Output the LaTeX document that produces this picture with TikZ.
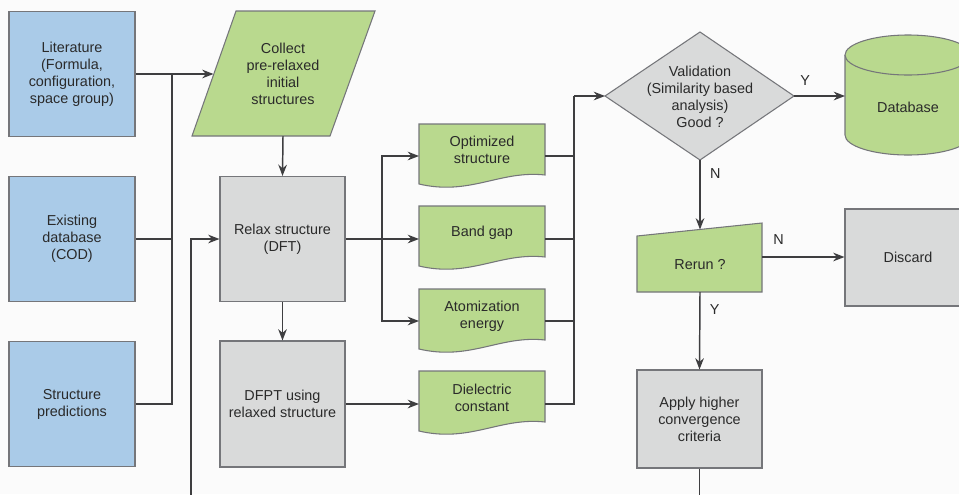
\documentclass[tikz,border=0pt]{standalone}
\usepackage{fontspec}
\setmainfont{Liberation Sans}
\usetikzlibrary{arrows.meta}
\definecolor{bluef}{HTML}{AACBE8}
\definecolor{greenf}{HTML}{B9D98E}
\definecolor{grayf}{HTML}{D9DADA}
\definecolor{bord}{HTML}{75767A}
\definecolor{wire}{HTML}{3E3E40}
\definecolor{txtc}{HTML}{2A2A2A}
\definecolor{bgc}{HTML}{FBFBFB}
\newcommand{\docshp}[1]{\draw[docstyle] (419,#1) -- (545,#1) -- (545,#1+51) .. controls (500,#1+46) and (470,#1+72) .. (419,#1+60) -- cycle;}
\begin{document}
\begin{tikzpicture}[x=0.75pt,y=-0.75pt,
  txt/.style={text=txtc,align=center,font=\fontsize{10.8}{12.8}\selectfont,inner sep=0pt},
  boxbase/.style={txt,draw=bord,line width=0.8pt,minimum width=94.5pt,inner sep=2pt},
  bluebox/.style={boxbase,fill=bluef,minimum height=93.75pt},
  graybox/.style={boxbase,fill=grayf,minimum width=93.75pt,minimum height=93.75pt},
  docstyle/.style={draw=bord,line width=0.8pt,fill=greenf},
  wire/.style={draw=wire,line width=1.1pt},
  arr/.style={wire,-{Stealth[length=8.5pt,width=6.5pt,inset=2.8pt]}},
  lbl/.style={txt}]
\useasboundingbox (0,0) rectangle (959,494);
\clip (0,0) rectangle (959,494);
\fill[bgc] (0,0) rectangle (959,494);

% sources
\node[bluebox] (lit) at (72,74) {Literature\\(Formula,\\configuration,\\space group)};
\node[bluebox] (exist) at (72,239) {Existing\\database\\(COD)};
\node[bluebox] (pred) at (72,404) {Structure\\predictions};

% collect (parallelogram)
\draw[docstyle] (236,11) -- (375,11) -- (330,136) -- (192,136) -- cycle;
\node[txt] (coll) at (283,74) {Collect\\pre-relaxed\\initial\\structures};
\coordinate (collW) at (213.5,74);
\coordinate (collS) at (283,136);

% processing boxes
\node[graybox] (relax) at (282.5,239) {Relax structure\\(DFT)};
\node[graybox,minimum height=94.5pt] (dfpt) at (282.5,404) {DFPT using\\relaxed structure};

% documents
\docshp{124}
\docshp{206}
\docshp{289}
\docshp{371}
\node[txt] (opt) at (482,150) {Optimized\\structure};
\node[txt] (band) at (482,233) {Band gap};
\node[txt] (atom) at (482,316) {Atomization\\energy};
\node[txt] (diel) at (482,397.5) {Dielectric\\constant};
\coordinate (optW) at (419,156);  \coordinate (optE) at (545,156);
\coordinate (bandW) at (419,239); \coordinate (bandE) at (545,239);
\coordinate (atomW) at (419,321); \coordinate (atomE) at (545,321);
\coordinate (dielW) at (419,404); \coordinate (dielE) at (545,404);

% validation diamond
\draw[draw=bord,line width=0.8pt,fill=grayf] (605,96) -- (700,32) -- (794,96) -- (700,160) -- cycle;
\node[txt] (valid) at (700,96.5) {Validation\\(Similarity based\\analysis)\\Good ?};
\coordinate (validW) at (605,96);
\coordinate (validE) at (794,96);
\coordinate (validS) at (700,160);

% database cylinder
\draw[docstyle] (845,55) -- (845,135) arc[start angle=180,end angle=0,x radius=63,y radius=20] -- (971,55);
\draw[docstyle] (908,55) ellipse[x radius=63,y radius=20];
\node[txt] (db) at (908,107) {Database};
\coordinate (dbW) at (845,96);

% rerun (manual input)
\draw[docstyle] (637,236) -- (762,223) -- (762,292) -- (637,292) -- cycle;
\node[txt] (rerun) at (700,265) {Rerun ?};
\coordinate (rerunN) at (700,229.5);
\coordinate (rerunE) at (762,257);
\coordinate (rerunS) at (700,292);

% discard and apply
\node[graybox,minimum width=94.5pt,minimum height=72.75pt] (discard) at (908,257.5) {Discard};
\node[graybox,minimum height=73.5pt] (apply) at (699.5,419) {Apply higher\\convergence\\criteria};

% bus coordinates
\coordinate (busL) at (172,74);
\coordinate (loopB) at (191,500);
\coordinate (busM) at (382,239);
\coordinate (busR) at (574,96);
\coordinate (applyB) at (699.5,500);

% connectors
\draw[arr] (lit.east) -- (collW);
\draw[wire] (pred.east) -| (busL);
\draw[wire] (exist.east) -- (exist.east -| busL);
\draw[arr] (loopB) |- (relax.west);
\draw[arr] (collS) -- (relax.north);
\draw[arr] (relax.south) -- (dfpt.north);
\draw[wire] (relax.east) -- (busM);
\draw[arr] (busM) |- (optW);
\draw[arr] (busM) -- (bandW);
\draw[arr] (busM) |- (atomW);
\draw[arr] (dfpt.east |- dielW) -- (dielW);
\draw[wire] (optE) -| (busR);
\draw[wire] (bandE) -- (bandE -| busR);
\draw[wire] (atomE) -- (atomE -| busR);
\draw[wire] (dielE) -| (busR);
\draw[arr] (busR) -- (validW);
\draw[arr] (validE) -- node[lbl,above=7pt,pos=0.22] (ly1) {Y} (dbW);
\draw[arr] (validS) -- node[lbl,right=7pt,pos=0.19] (ln1) {N} (rerunN);
\draw[arr] (rerunE) -- node[lbl,above=9pt,pos=0.2] (ln2) {N} (discard.west |- rerunE);
\draw[arr] (rerunS) -- node[lbl,right=7pt,pos=0.22] (ly2) {Y} (apply.north);
\draw[wire] (apply.south) -- (applyB);
\end{tikzpicture}
\end{document}
